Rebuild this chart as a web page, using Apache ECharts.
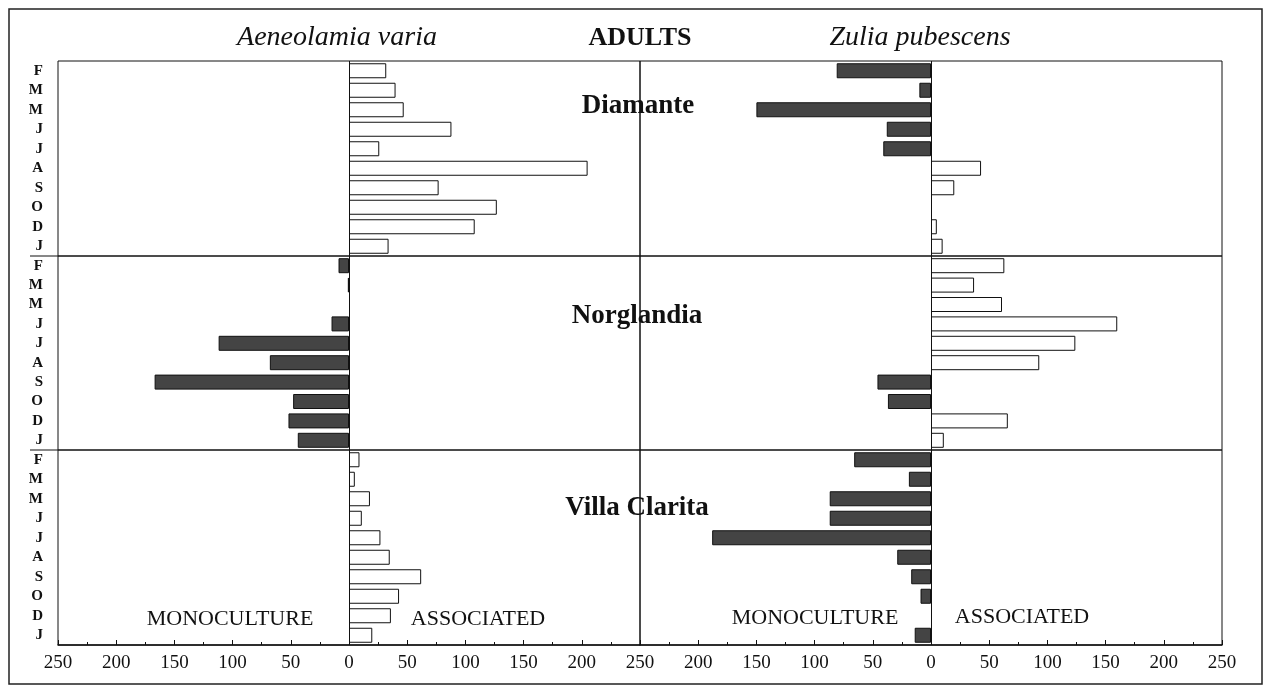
<!DOCTYPE html>
<html>
<head>
<meta charset="utf-8">
<script src="https://cdn.jsdelivr.net/npm/echarts@6/dist/echarts.min.js"></script>
<style>
  html, body { margin: 0; padding: 0; background: #fff; }
  #chart { width: 1268px; height: 687px; }
</style>
</head>
<body>
<div id="chart"></div>
<script>
// months, top to bottom
const months = ['F', 'M', 'M', 'J', 'J', 'A', 'S', 'O', 'D', 'J'];
const xTicks = [-250, -200, -150, -100, -50, 0, 50, 100, 150, 200, 250];

// negative = monoculture, positive = associated
const diamanteAeneolamia = [32, 40, 47, 88, 26, 205, 77, 127, 108, 34];
const diamanteZulia = [-81, -10, -150, -38, -41, 43, 20, 0, 5, 10];
const norglandiaAeneolamia = [-9, -1, 0, -15, -112, -68, -167, -48, -52, -44];
const norglandiaZulia = [63, 37, 61, 160, 124, 93, -46, -37, 66, 11];
const villaAeneolamia = [9, 5, 18, 11, 27, 35, 62, 43, 36, 20];
const villaZulia = [-66, -19, -87, -87, -188, -29, -17, -9, 0, -14];

const panels = [
  diamanteAeneolamia, diamanteZulia,
  norglandiaAeneolamia, norglandiaZulia,
  villaAeneolamia, villaZulia
];

const serif = '"Liberation Serif", "Times New Roman", serif';
const colLeft = [58, 640];
const rowTop = [61, 256, 450];
const rowHeight = [195, 194, 195];

const grid = [], xAxis = [], yAxis = [], series = [];
panels.forEach((vals, i) => {
  const row = Math.floor(i / 2), col = i % 2;
  grid.push({
    left: colLeft[col], top: rowTop[row], width: 582, height: rowHeight[row],
    show: true, borderColor: '#111', borderWidth: 1, backgroundColor: 'transparent'
  });
  xAxis.push({
    type: 'value', gridIndex: i, min: -250, max: 250, interval: 50,
    axisLine: { show: row === 2, lineStyle: { color: '#111', width: 1.5 } },
    axisTick: { show: row === 2, inside: true, length: 5, lineStyle: { color: '#111' } },
    minorTick: { show: row === 2, splitNumber: 2, length: 3, lineStyle: { color: '#111' } },
    splitLine: { show: false },
    axisLabel: {
      show: row === 2, color: '#111', fontFamily: serif, fontSize: 19, margin: 9,
      // the shared 250 between the two panels is written once
      formatter: v => (xTicks.includes(v) && !(col === 0 && v === 250)) ? String(Math.abs(v)) : ''
    }
  });
  yAxis.push({
    type: 'category', gridIndex: i, data: months, inverse: true,
    axisLine: { show: false }, axisTick: { show: false },
    axisLabel: {
      show: col === 0, interval: 0, hideOverlap: false, color: '#111', fontFamily: serif,
      fontSize: 15, fontWeight: 'bold', margin: 15
    }
  });
  series.push({
    type: 'bar', xAxisIndex: i, yAxisIndex: i,
    data: vals.map(v => v === 0 ? '-' : v), barWidth: 15,
    itemStyle: {
      color: p => p.value < 0 ? '#444444' : '#ffffff',
      borderColor: '#111', borderWidth: 1
    },
    markLine: {
      silent: true, symbol: 'none', label: { show: false },
      lineStyle: { color: '#111', type: 'solid', width: 1 },
      data: [{ xAxis: 0 }]
    }
  });
});

function txt(x, y, text, size, weight, style) {
  return {
    type: 'text', x: x, y: y,
    style: {
      text: text, fill: '#111', font: (style || 'normal') + ' ' + (weight || 'normal') + ' ' + size + 'px ' + serif,
      align: 'center', verticalAlign: 'middle'
    }
  };
}

const chart = echarts.init(document.getElementById('chart'), null, { renderer: 'canvas' });
chart.setOption({
  animation: false,
  backgroundColor: '#fff',
  grid, xAxis, yAxis, series,
  graphic: [
    { type: 'rect', shape: { x: 9, y: 9, width: 1253, height: 675 },
      style: { fill: 'none', stroke: '#222', lineWidth: 1.5 } },
    { type: 'line', shape: { x1: 30, y1: 256, x2: 58, y2: 256 }, style: { stroke: '#111', lineWidth: 1 } },
    { type: 'line', shape: { x1: 30, y1: 450, x2: 58, y2: 450 }, style: { stroke: '#111', lineWidth: 1 } },
    txt(337, 38, 'Aeneolamia varia', 28, 'normal', 'italic'),
    txt(640, 38, 'ADULTS', 26, 'bold'),
    txt(920, 38, 'Zulia pubescens', 28, 'normal', 'italic'),
    txt(638, 106, 'Diamante', 27, 'bold'),
    txt(637, 316, 'Norglandia', 27, 'bold'),
    txt(637, 508, 'Villa Clarita', 27, 'bold'),
    txt(230, 619, 'MONOCULTURE', 22),
    txt(478, 619, 'ASSOCIATED', 22),
    txt(815, 618, 'MONOCULTURE', 22),
    txt(1022, 617, 'ASSOCIATED', 22)
  ]
});
</script>
</body>
</html>
